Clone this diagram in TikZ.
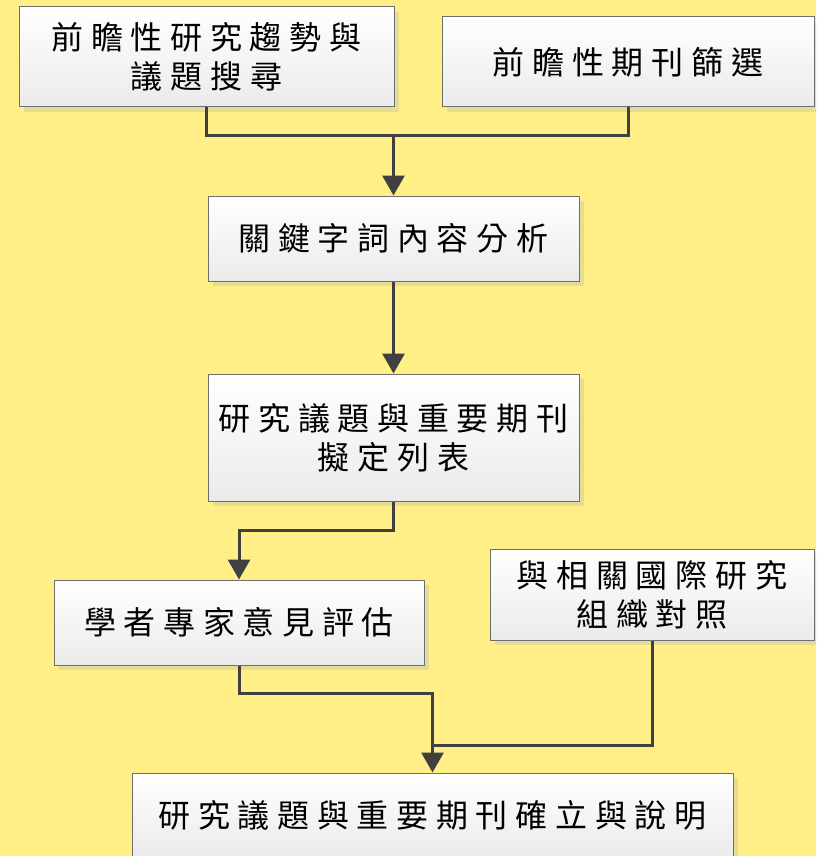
\documentclass[tikz,border=0pt]{standalone}
\usepackage{fontspec}
\newfontfamily\cjk[LetterSpace=24]{Noto Sans CJK TC}
\usetikzlibrary{arrows.meta,shadows}
\definecolor{bgyellow}{RGB}{255,239,134}
\definecolor{shade}{RGB}{230,220,150}
\definecolor{linegray}{RGB}{64,64,64}
\definecolor{framegray}{RGB}{110,110,110}
\begin{document}
\begin{tikzpicture}[x=1pt, y=-1pt,
    box/.style={draw=framegray, line width=1pt, top color=white,
      bottom color=black!8, align=center, inner sep=0pt,
      drop shadow={shadow xshift=5pt, shadow yshift=-5pt, fill=shade, opacity=1},
      font=\cjk\fontsize{32pt}{39pt}\selectfont},
    link/.style={draw=linegray, line width=3pt},
    arrow/.style={link, -{Triangle[width=22pt,length=20pt]}}]
  \fill[bgyellow] (0,0) rectangle (816,856);
  \useasboundingbox (0,0) rectangle (816,856);
  \clip (0,0) rectangle (816,856);
  % boxes
  \node[box, minimum width=375pt, minimum height=100pt] (trend) at (206.5,57) {前瞻性研究趨勢與\\議題搜尋};
  \node[box, minimum width=372pt, minimum height=90pt] (journal) at (628,62) {前瞻性期刊篩選};
  \node[box, minimum width=371pt, minimum height=85pt] (keyword) at (393.5,238.5) {關鍵字詞內容分析};
  \node[box, minimum width=371pt, minimum height=127pt] (draft) at (393.5,437.5) {研究議題與重要期刊\\擬定列表};
  \node[box, minimum width=370pt, minimum height=85pt] (expert) at (239,622.5) {學者專家意見評估};
  \node[box, minimum width=324pt, minimum height=91pt] (intl) at (652,594.5) {與相關國際研究\\組織對照};
  \node[box, minimum width=601pt, minimum height=84pt] (final) at (432.5,815) {研究議題與重要期刊確立與說明};
  % connectors
  \coordinate (merge) at (393.5,135);
  \coordinate (join) at (432.5,693);
  \coordinate (joinb) at (432.5,745);
  \draw[link] (trend.south) |- (merge) -| (journal.south);
  \draw[arrow] (merge) -- (keyword.north);
  \draw[arrow] (keyword.south) -- (draft.north);
  \draw[arrow] (draft.south) -- ++(0,29) -| (expert.north);
  \draw[arrow] (expert.south) |- (join) -- (final.north);
  \draw[link] (intl.south) |- (joinb);
\end{tikzpicture}
\end{document}
